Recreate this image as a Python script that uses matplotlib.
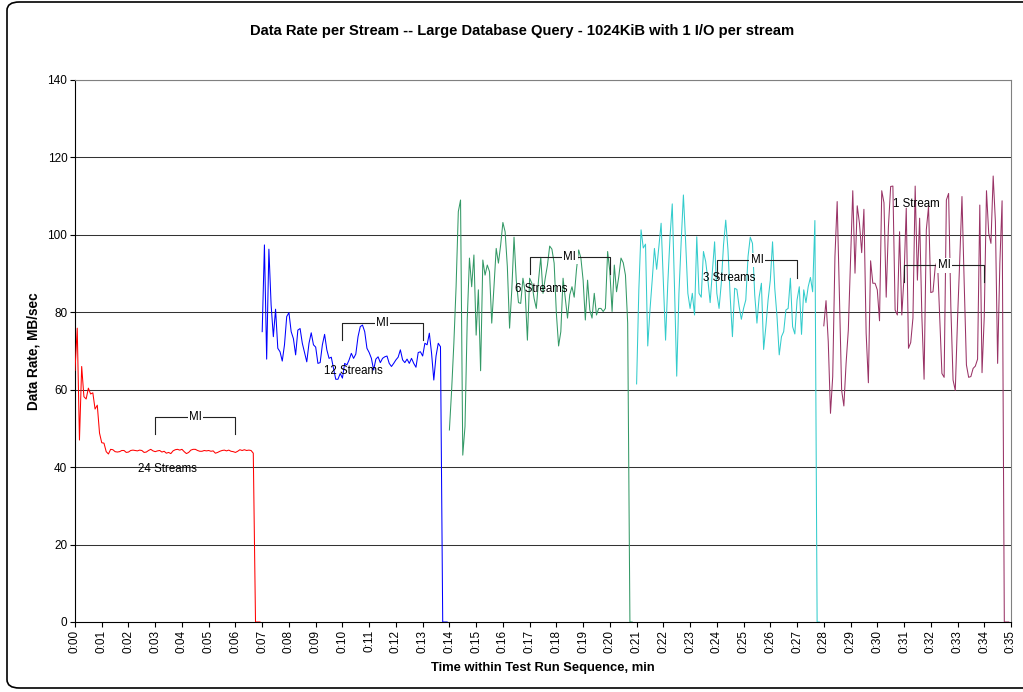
import numpy as np
import matplotlib
matplotlib.use("Agg")
import matplotlib.pyplot as plt
from matplotlib.patches import FancyBboxPatch

plt.rcParams['font.family'] = ['Liberation Sans', 'DejaVu Sans']

# sample step is 5 seconds (1/12 min); each run starts every 7 minutes
step = 1.0 / 12
run_starts = [0, 7, 14, 21, 28]
run_labels = ["24 Streams", "12 Streams", "6 Streams", "3 Streams", "1 Stream"]
run_colors = ["#FF0000", "#0000FF", "#339966", "#33CCCC", "#993366"]

rate_24 = [65.0, 75.9, 47.0, 66.0, 58.2, 57.6, 60.4, 58.9, 59.2, 55.0,
           56.0, 48.8, 46.3, 46.2, 44.0, 43.4, 44.6, 44.5, 44.0, 43.9,
           44.0, 44.3, 44.3, 43.8, 43.9, 44.3, 44.4, 44.3, 44.2, 44.4,
           44.3, 43.8, 43.9, 44.3, 44.6, 44.2, 44.0, 44.2, 44.3, 43.9,
           44.1, 43.6, 43.8, 43.5, 44.2, 44.5, 44.6, 44.4, 44.6, 44.0,
           43.5, 43.8, 44.4, 44.6, 44.6, 44.3, 44.1, 44.1, 44.3, 44.2,
           44.3, 44.1, 44.2, 43.6, 43.8, 44.1, 44.3, 44.4, 44.2, 44.4,
           44.1, 44.0, 43.8, 44.1, 44.5, 44.3, 44.5, 44.3, 44.4, 44.3,
           43.6, 0, 0, 0]
rate_12 = [75.0, 97.4, 67.9, 96.3, 81.9, 73.7, 80.8, 70.7, 69.8, 67.4,
           71.6, 78.9, 79.9, 75.0, 73.2, 69.0, 75.4, 75.8, 72.0, 69.6,
           67.2, 72.0, 74.7, 71.6, 71.0, 66.8, 67.0, 71.6, 74.3, 70.3,
           68.1, 68.4, 65.5, 62.7, 62.7, 64.2, 63.0, 66.8, 66.4, 67.7,
           69.4, 68.1, 69.2, 73.7, 76.3, 76.7, 75.0, 70.7, 69.6, 68.1,
           65.1, 67.9, 68.5, 67.0, 68.1, 68.5, 68.7, 66.8, 66.0, 66.8,
           67.7, 68.4, 70.3, 67.7, 67.0, 67.9, 66.8, 68.1, 66.8, 65.8,
           69.6, 69.8, 68.7, 72.0, 71.6, 74.6, 69.4, 62.5, 68.7, 72.0,
           71.1, 0, 0, 0]
rate_6 = [49.6, 59.9, 72.0, 86.6, 106.0, 109.0, 43.1, 50.5, 78.0, 94.0,
          86.6, 94.8, 74.1, 85.8, 64.9, 93.5, 89.6, 92.2, 90.5, 77.2,
          86.6, 96.5, 92.7, 97.4, 103.2, 100.8, 91.8, 75.9, 85.8, 99.4,
          88.3, 82.5, 82.3, 88.8, 85.3, 72.8, 88.8, 87.5, 83.6, 81.0,
          88.3, 94.2, 84.9, 88.8, 92.2, 97.1, 96.3, 92.7, 79.7, 71.3,
          75.0, 88.8, 83.6, 78.5, 84.5, 86.6, 83.9, 90.9, 96.1, 94.0,
          88.3, 78.0, 88.3, 80.6, 78.5, 84.9, 79.3, 81.0, 81.0, 80.2,
          81.0, 95.7, 90.5, 80.2, 92.2, 85.3, 89.2, 94.0, 92.8, 89.6,
          77.2, 0, 0]
rate_3 = [61.5, 85.8, 101.3, 96.6, 97.6, 71.3, 80.6, 88.3, 96.5, 91.1,
          97.0, 103.0, 87.9, 72.8, 87.5, 99.5, 108.0, 86.6, 63.5, 84.9,
          98.2, 110.3, 98.2, 84.9, 81.0, 84.9, 79.3, 99.5, 84.9, 83.9,
          95.7, 93.1, 88.3, 82.5, 90.5, 98.2, 84.9, 81.0, 87.5, 97.4,
          103.8, 96.1, 84.0, 73.7, 86.2, 85.9, 81.5, 78.2, 81.0, 83.2,
          94.4, 99.4, 97.8, 84.5, 77.2, 84.0, 87.5, 70.4, 76.3, 83.2,
          88.3, 98.2, 86.2, 78.9, 69.0, 73.7, 75.0, 80.6, 81.0, 88.8,
          76.3, 74.4, 83.2, 86.6, 74.3, 85.8, 82.5, 86.6, 89.0, 85.3,
          103.7, 0, 0]
rate_1 = [76.5, 83.0, 72.4, 53.9, 63.4, 94.4, 108.6, 84.5, 59.9, 55.8,
          66.8, 75.4, 93.5, 111.4, 90.1, 107.5, 103.0, 95.4, 106.6, 74.6,
          61.8, 93.3, 87.5, 87.5, 85.8, 77.8, 111.4, 108.3, 83.9, 102.1,
          112.5, 112.6, 80.6, 79.3, 100.8, 79.3, 89.2, 106.9, 70.7, 72.2,
          78.5, 112.6, 88.3, 104.3, 79.0, 62.7, 101.3, 107.3, 85.1, 85.3,
          91.8, 93.5, 78.9, 64.2, 63.2, 109.0, 110.7, 81.5, 62.5, 59.8,
          78.0, 93.5, 109.9, 87.5, 66.4, 63.2, 63.4, 65.5, 66.1, 67.9,
          107.7, 64.4, 78.9, 111.4, 100.4, 97.8, 115.2, 103.4, 66.8, 92.7,
          108.8, 0, 0, 0]
run_rates = [rate_24, rate_12, rate_6, rate_3, rate_1]

# label anchor (minute, MB/sec) for each run
label_x = [3.44, 10.42, 17.43, 24.45, 31.46]
label_y = [39.5, 64.8, 86.0, 88.9, 108.0]

# measurement interval brackets
mi_start = [3, 10, 17, 24, 31]
mi_end = [6, 13, 20, 27, 34]
mi_top = [52.9, 77.3, 94.4, 93.5, 92.1]
mi_bottom = [48.5, 72.8, 89.8, 88.9, 87.9]

fig = plt.figure(figsize=(10.23, 6.92), dpi=100)
fig.patches.append(FancyBboxPatch((7 / 1023, 4 / 692), 1030 / 1023, 686 / 692,
                                  boxstyle="round,pad=0,rounding_size=0.012",
                                  transform=fig.transFigure, fill=False,
                                  edgecolor="black", linewidth=1.2))
ax = fig.add_axes([75 / 1023, 1 - 622 / 692, 936 / 1023, 542 / 692])

for start, rates, color in zip(run_starts, run_rates, run_colors):
    t = start + np.arange(len(rates)) * step
    ax.plot(t, rates, color=color, linewidth=0.75, zorder=3)

for x, y, s in zip(label_x, label_y, run_labels):
    ax.text(x, y, s, ha='center', va='center', fontsize=8.3, zorder=4)

for x0, x1, top, bot in zip(mi_start, mi_end, mi_top, mi_bottom):
    ax.plot([x0, x0, x1, x1], [bot, top, top, bot], color='#222222',
            linewidth=0.8, zorder=4)
    ax.text((x0 + x1) / 2, top, "MI", ha='center', va='center', fontsize=8.3,
            zorder=5, bbox=dict(facecolor='white', edgecolor='none', pad=1))

ax.set_xlim(0, 35)
ax.set_ylim(0, 140)
ax.set_xticks(range(0, 36))
ax.set_xticklabels(["0:%02d" % m for m in range(0, 36)], rotation=90, fontsize=8.5)
ax.set_yticks(range(0, 141, 20))
ax.set_yticklabels([str(v) for v in range(0, 141, 20)], fontsize=8.5)
ax.tick_params(direction='out', length=3.5, width=0.8, pad=2)

for v in range(20, 141, 20):
    ax.axhline(v, color='#333333', linewidth=0.75, zorder=1)

ax.spines['left'].set_color('black')
ax.spines['bottom'].set_color('black')
ax.spines['top'].set_color('#808080')
ax.spines['right'].set_color('#808080')

ax.set_xlabel("Time within Test Run Sequence, min", fontsize=9.4,
              fontweight='bold', labelpad=7)
ax.set_ylabel("Data Rate, MB/sec", fontsize=9.8, fontweight='bold', labelpad=5)
fig.text(522 / 1023, 1 - 31 / 692,
         "Data Rate per Stream -- Large Database Query - 1024KiB with 1 I/O per stream",
         ha='center', va='center', fontsize=10.6, fontweight='bold')

fig.savefig("out.png", dpi=100)
